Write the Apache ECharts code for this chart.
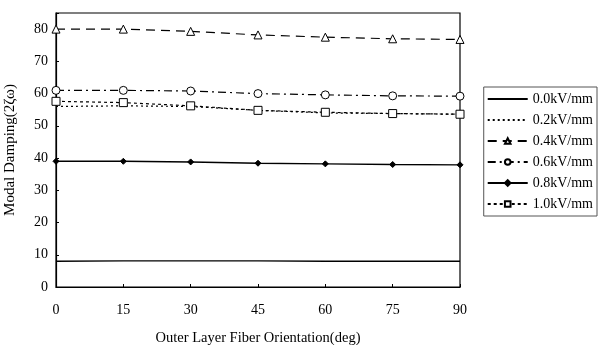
<!DOCTYPE html>
<html><head><meta charset="utf-8">
<script src="https://cdn.jsdelivr.net/npm/echarts@6/dist/echarts.min.js"></script>
<style>html,body{margin:0;padding:0;background:#fff}#c{width:599px;height:345px}</style>
</head><body><div id="c"></div>
<script>
var angles = [0, 15, 30, 45, 60, 75, 90];
var seriesNames = ['0.0kV/mm', '0.2kV/mm', '0.4kV/mm', '0.6kV/mm', '0.8kV/mm', '1.0kV/mm'];
var v00 = [8.0, 8.1, 8.1, 8.1, 8.0, 8.0, 8.0];
var v02 = [56.0, 56.2, 56.0, 54.8, 54.0, 53.8, 53.6];
var v04 = [80.0, 80.0, 79.3, 78.2, 77.5, 77.0, 76.8];
var v06 = [61.0, 61.0, 60.8, 60.0, 59.6, 59.3, 59.2];
var v08 = [39.0, 39.0, 38.8, 38.4, 38.2, 38.0, 37.9];
var v10 = [57.6, 57.2, 56.2, 54.8, 54.2, 53.8, 53.6];
var yTicks = [0, 10, 20, 30, 40, 50, 60, 70, 80];

function pts(v){ return angles.map(function(a,i){ return [a, v[i]]; }); }
var font = 'Liberation Serif';
function mk(name, data, dash, symbol, size, fill, width){
  return {
    name: name, type: 'line', data: pts(data),
    symbol: symbol, symbolSize: size, showSymbol: symbol !== 'none',
    lineStyle: { color: '#000', width: width || 1.2, type: dash },
    itemStyle: { color: fill, borderColor: '#000', borderWidth: 1 },
    emphasis: { disabled: true }, animation: false
  };
}
var hidden = { color: 'rgba(0,0,0,0)', borderColor: 'rgba(0,0,0,0)', borderWidth: 0 };
var legendData = seriesNames.map(function(n, i){
  return (i === 0 || i === 1) ? { name: n, itemStyle: hidden } : { name: n };
});
var chart = echarts.init(document.getElementById('c'));
chart.setOption({
  backgroundColor: '#fff',
  animation: false,
  grid: { left: 56, right: 139, top: 13, bottom: 58, show: true, borderColor: '#000', borderWidth: 1.2,
          backgroundColor: 'transparent', containLabel: false, outerBoundsMode: 'none' },
  legend: {
    orient: 'vertical', right: 2, top: 87, itemWidth: 40, itemHeight: 7, itemGap: 7,
    borderColor: '#555', borderWidth: 1, padding: [5, 4, 5, 3],
    textStyle: { fontFamily: font, fontSize: 14, color: '#000' },
    data: legendData
  },
  xAxis: {
    type: 'value', min: 0, max: 90, interval: 15,
    name: 'Outer Layer Fiber Orientation(deg)', nameLocation: 'middle', nameGap: 44,
    nameTextStyle: { fontFamily: font, fontSize: 14.5, color: '#000' },
    axisLine: { lineStyle: { color: '#000', width: 1.2 } },
    axisTick: { inside: true, length: 3, lineStyle: { color: '#000' } },
    axisLabel: { fontFamily: font, fontSize: 14, color: '#000', margin: 16 },
    splitLine: { show: false }
  },
  yAxis: {
    type: 'value', min: 0, max: 85, interval: 10,
    name: 'Modal Damping(2ζω)', nameLocation: 'middle', nameGap: 38,
    nameTextStyle: { fontFamily: font, fontSize: 15, color: '#000' },
    axisLine: { lineStyle: { color: '#000', width: 1.2 } },
    axisTick: { inside: true, length: 3, lineStyle: { color: '#000' } },
    axisLabel: { fontFamily: font, fontSize: 14, color: '#000', margin: 8,
      formatter: function(v){ return yTicks.indexOf(v) >= 0 ? String(v) : ''; } },
    splitLine: { show: false }
  },
  series: [
    mk(seriesNames[0], v00, 'solid', 'none', 0, '#000', 1.4),
    mk(seriesNames[1], v02, [2, 3], 'none', 0, '#000', 1.2),
    mk(seriesNames[2], v04, [9, 6], 'triangle', 8, '#fff', 1.2),
    mk(seriesNames[3], v06, [8, 4, 2, 4], 'circle', 8, '#fff', 1.2),
    mk(seriesNames[4], v08, 'solid', 'diamond', 6, '#000', 1.4),
    mk(seriesNames[5], v10, [3, 3], 'rect', 8, '#fff', 1.2)
  ]
});
</script></body></html>
